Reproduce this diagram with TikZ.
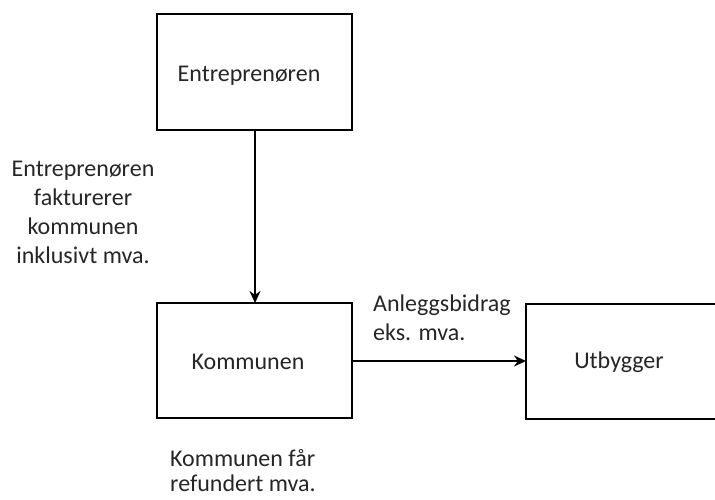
\documentclass[tikz,border=0pt]{standalone}
\usepackage{fontspec}
\setmainfont{Carlito}
\usetikzlibrary{arrows.meta}
\begin{document}
\begin{tikzpicture}[x=1pt,y=-1pt,
  party/.style={draw=black,line width=2.8pt,fill=white},
  flow/.style={draw=black,line width=2.2pt,-{Stealth[length=12pt,width=11pt]}},
  lbl/.style={font=\fontsize{24}{29}\selectfont,text=black!85,inner sep=0pt},
]
\useasboundingbox (0,0) rectangle (715,499);
% parties
\draw[party] (157,14) rectangle (352,130);
\node[lbl] (ent) at (249,76) {Entreprenøren};
\coordinate (entS) at (255,130);
\draw[party] (157,303) rectangle (352,418);
\node[lbl] (kom) at (248,362) {Kommunen};
\coordinate (komN) at (255,303);
\coordinate (komE) at (352,361);
\draw[party] (526,304) rectangle (730,419);
\node[lbl] (utb) at (619,362) {Utbygger};
\coordinate (utbW) at (526,361);
% flows
\draw[flow] (entS) -- (komN);
\draw[flow] (komE) -- (utbW);
% notes
\node[lbl,align=center] (n1) at (83,212) {Entreprenøren\\fakturerer\\kommunen\\inklusivt mva.};
\node[lbl,align=left,anchor=west] (n2) at (373,318) {Anleggsbidrag\\eks. mva.};
\node[lbl,font=\fontsize{24}{25}\selectfont,align=left,anchor=west] (n3) at (170,471) {Kommunen får\\refundert mva.};
\end{tikzpicture}
\end{document}
